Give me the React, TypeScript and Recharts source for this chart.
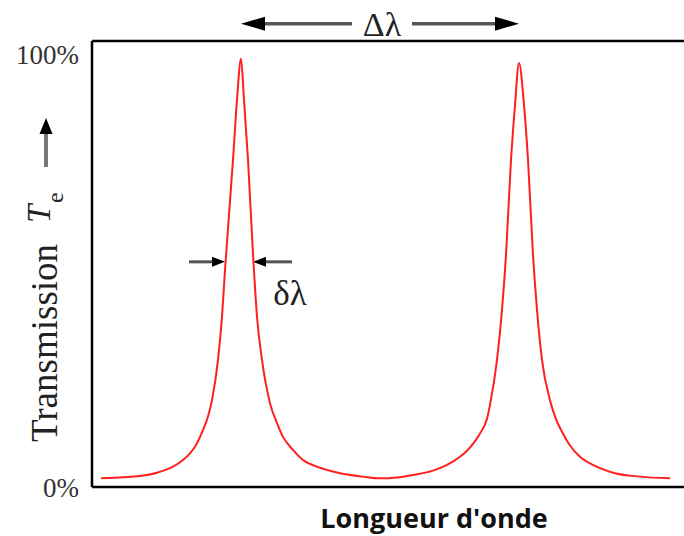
import React from "react";
import { LineChart, Line, XAxis, YAxis, ReferenceLine } from "recharts";

// Wavelength (arbitrary units) and transmission (%)
const LAMBDA = [9, 31, 48, 65, 81, 91, 98, 105, 111, 116, 120, 126, 130, 133, 141, 145, 149, 152, 156, 161, 165, 170, 178, 185, 191, 201, 211, 225, 248, 271, 288, 305, 321, 341, 355, 368, 375, 381, 388, 395, 398, 405, 410, 414, 419, 423, 427, 432, 436, 441, 445, 450, 458, 463, 470, 478, 488, 501, 521, 548, 578];
const TRANS = [2.0, 2.25, 2.55, 3.3, 4.7, 6.25, 7.8, 10.1, 13.2, 16.3, 20.1, 29.4, 39.4, 50.2, 75.7, 89.6, 99.1, 89.6, 75.7, 53.9, 39.4, 29.4, 19.4, 14.8, 11.6, 8.6, 6.25, 4.7, 3.2, 2.4, 2.0, 2.2, 2.8, 3.8, 5.1, 7.0, 8.4, 10.0, 12.4, 15.8, 19.0, 29.4, 41.0, 53.7, 75.7, 88.4, 98.1, 88.4, 75.7, 53.7, 41.0, 29.4, 20.1, 16.3, 12.8, 9.6, 7.0, 5.1, 3.3, 2.4, 2.0];

const Y_TICKS = [0, 100];
const X_DOMAIN = [0, 592];
const Y_DOMAIN = [0, 103.2];

// Annotation anchors (data units)
const PEAK1 = 149;
const PEAK2 = 427;
const DELTA_Y = 107.2;
const FWHM_Y = 52.1;
const FWHM_LEFT = [97, 133];
const FWHM_RIGHT = [200, 161];

const data = LAMBDA.map((l, i) => ({ lambda: l, t: TRANS[i] }));

const SERIF = "'Liberation Serif', 'DejaVu Serif', serif";

const BigDeltaShape = (props: any) => {
  const { x1, y1, x2 } = props;
  const cx = (x1 + x2) / 2 + 2;
  const gap = 30;
  const head = 24;
  const hh = 7;
  return (
    <g>
      <line x1={x1 + head - 2} y1={y1} x2={cx - gap} y2={y1} stroke="#555" strokeWidth={3.5} />
      <line x1={cx + gap} y1={y1} x2={x2 - head + 2} y2={y1} stroke="#555" strokeWidth={3.5} />
      <polygon points={`${x1},${y1} ${x1 + head},${y1 - hh} ${x1 + head},${y1 + hh}`} fill="#000" />
      <polygon points={`${x2},${y1} ${x2 - head},${y1 - hh} ${x2 - head},${y1 + hh}`} fill="#000" />
      <text x={cx} y={y1 + 12} textAnchor="middle" fontFamily={SERIF} fontSize={34} fill="#222">Δλ</text>
    </g>
  );
};

const SmallArrowShape = (withText: boolean) => (props: any) => {
  const { x1, y1, x2 } = props;
  const dir = x2 > x1 ? 1 : -1;
  const head = 13;
  const hh = 5;
  return (
    <g>
      <line x1={x1} y1={y1} x2={x2 - dir * (head - 2)} y2={y1} stroke="#555" strokeWidth={3} />
      <polygon points={`${x2},${y1} ${x2 - dir * head},${y1 - hh} ${x2 - dir * head},${y1 + hh}`} fill="#000" />
      {withText && (
        <text x={x1 - 2} y={y1 + 43} textAnchor="middle" fontFamily={SERIF} fontSize={35} fill="#222">δλ</text>
      )}
    </g>
  );
};

const YLabel = (props: any) => {
  const vb = props.viewBox || { x: 0, y: 41 };
  const ox = vb.x;
  const oy = vb.y - 41;
  return (
    <g>
      <text transform={`translate(${ox + 57},${oy + 442}) rotate(-90)`} fontFamily={SERIF} fontSize={37} fill="#222">Transmission</text>
      <text transform={`translate(${ox + 50},${oy + 223}) rotate(-90)`} fontFamily={SERIF} fontStyle="italic" fontSize={33} fill="#222">T</text>
      <text transform={`translate(${ox + 63},${oy + 203}) rotate(-90)`} fontFamily={SERIF} fontSize={24} fill="#222">e</text>
      <line x1={ox + 46} y1={oy + 167} x2={ox + 46} y2={oy + 131} stroke="#777" strokeWidth={4} />
      <polygon points={`${ox + 46},${oy + 118} ${ox + 39.5},${oy + 134} ${ox + 52.5},${oy + 134}`} fill="#000" />
    </g>
  );
};

const XLabel = (props: any) => {
  const vb = props.viewBox || { x: 92, y: 487 };
  return (
    <text x={vb.x + 342} y={vb.y + 41} textAnchor="middle" fontFamily="'Open Sans', 'Noto Sans', sans-serif" fontWeight="bold" fontSize={27} fill="#111">
      Longueur d'onde
    </text>
  );
};

export default function App() {
  return (
    <div style={{ position: "absolute", left: 0, top: 0, width: 684, height: 536, background: "#fff" }}>
      <LineChart width={684} height={536} data={data} margin={{ top: 41, right: 0, bottom: 0, left: 0 }}>
        <XAxis
          dataKey="lambda"
          type="number"
          domain={X_DOMAIN}
          tick={false}
          tickLine={false}
          height={49}
          axisLine={{ stroke: "#000", strokeWidth: 2.5 }}
          label={<XLabel />}
        />
        <YAxis
          type="number"
          domain={Y_DOMAIN}
          ticks={Y_TICKS}
          allowDataOverflow
          width={92}
          tickLine={false}
          tickSize={0}
          tickMargin={13}
          tickFormatter={(v: number) => `${v}%`}
          tick={{ fontFamily: SERIF, fontSize: 27, fill: "#333" }}
          axisLine={{ stroke: "#000", strokeWidth: 2.5 }}
          label={<YLabel />}
        />
        <ReferenceLine y={Y_DOMAIN[1]} stroke="#000" strokeWidth={2.5} />
        <ReferenceLine
          segment={[{ x: PEAK1, y: DELTA_Y }, { x: PEAK2, y: DELTA_Y }]}
          ifOverflow="visible"
          shape={BigDeltaShape}
        />
        <ReferenceLine
          segment={[{ x: FWHM_LEFT[0], y: FWHM_Y }, { x: FWHM_LEFT[1], y: FWHM_Y }]}
          ifOverflow="visible"
          shape={SmallArrowShape(false)}
        />
        <ReferenceLine
          segment={[{ x: FWHM_RIGHT[0], y: FWHM_Y }, { x: FWHM_RIGHT[1], y: FWHM_Y }]}
          ifOverflow="visible"
          shape={SmallArrowShape(true)}
        />
        <Line
          type="monotone"
          dataKey="t"
          stroke="#ff1f1f"
          strokeWidth={2}
          dot={false}
          isAnimationActive={false}
        />
      </LineChart>
    </div>
  );
}
